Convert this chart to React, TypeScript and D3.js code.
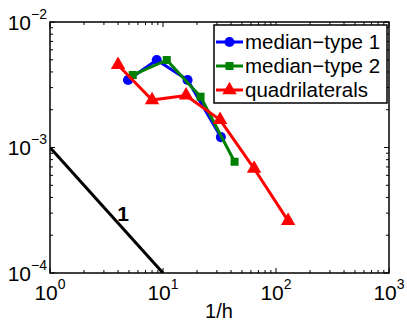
import React, { useEffect, useRef } from 'react';
import * as d3 from 'd3';

// values (log-log plot, error vs 1/h)
const median1X = [4.9, 8.8, 16.5, 32.5];
const median1Y = [3.45e-3, 4.98e-3, 3.45e-3, 1.21e-3];
const median2X = [5.4, 10.8, 21.5, 43];
const median2Y = [3.78e-3, 4.98e-3, 2.54e-3, 7.7e-4];
const quadX = [4, 8, 16, 32, 64, 128];
const quadY = [4.55e-3, 2.39e-3, 2.6e-3, 1.66e-3, 6.8e-4, 2.6e-4];
const slopeX = [1, 10];
const slopeY = [1e-3, 1e-4];

const xTickExps = [0, 1, 2, 3];
const yTickExps = [-4, -3, -2];
const legendLabels = ['median\u2212type 1', 'median\u2212type 2', 'quadrilaterals'];

const App = () => {
    const svgRef = useRef<SVGSVGElement>(null);

    useEffect(() => {
        const W = 407;
        const H = 322;
        const margin = { top: 22, right: 18, bottom: 49, left: 50 };
        const font = '"Liberation Sans", Arial, Helvetica, sans-serif';

        const x = d3.scaleLog().domain([1, 1000]).range([margin.left, W - margin.right]);
        const y = d3.scaleLog().domain([1e-4, 1e-2]).range([H - margin.bottom, margin.top]);

        const svg = d3.select(svgRef.current);
        svg.selectAll('*').remove();
        svg.attr('width', W).attr('height', H);

        svg.append('rect').attr('width', W).attr('height', H).attr('fill', 'white');

        const [x0, x1] = x.range();
        const [y0, y1] = y.range();

        // ticks (inside, on all four sides)
        const ticks = svg.append('g').attr('stroke', 'black').attr('stroke-width', 1);
        const xMinor: number[] = [];
        for (let e = 0; e < 3; e++) for (let k = 2; k <= 9; k++) xMinor.push(k * Math.pow(10, e));
        const yMinor: number[] = [];
        for (let e = -4; e < -2; e++) for (let k = 2; k <= 9; k++) yMinor.push(k * Math.pow(10, e));

        xMinor.forEach(v => {
            ticks.append('line').attr('x1', x(v)).attr('x2', x(v)).attr('y1', y0).attr('y2', y0 - 3);
            ticks.append('line').attr('x1', x(v)).attr('x2', x(v)).attr('y1', y1).attr('y2', y1 + 3);
        });
        xTickExps.forEach(e => {
            const v = Math.pow(10, e);
            ticks.append('line').attr('x1', x(v)).attr('x2', x(v)).attr('y1', y0).attr('y2', y0 - 5);
            ticks.append('line').attr('x1', x(v)).attr('x2', x(v)).attr('y1', y1).attr('y2', y1 + 5);
        });
        yMinor.forEach(v => {
            ticks.append('line').attr('y1', y(v)).attr('y2', y(v)).attr('x1', x0).attr('x2', x0 + 3);
            ticks.append('line').attr('y1', y(v)).attr('y2', y(v)).attr('x1', x1).attr('x2', x1 - 3);
        });
        yTickExps.forEach(e => {
            const v = Math.pow(10, e);
            ticks.append('line').attr('y1', y(v)).attr('y2', y(v)).attr('x1', x0).attr('x2', x0 + 5);
            ticks.append('line').attr('y1', y(v)).attr('y2', y(v)).attr('x1', x1).attr('x2', x1 - 5);
        });

        // tick labels
        xTickExps.forEach(e => {
            const t = svg.append('text')
                .attr('x', x(Math.pow(10, e)))
                .attr('y', 300)
                .attr('text-anchor', 'middle')
                .attr('font-family', font)
                .attr('font-size', 21);
            t.append('tspan').text('10');
            t.append('tspan').attr('dy', -11).attr('font-size', 14).text(String(e));
        });
        yTickExps.forEach(e => {
            const t = svg.append('text')
                .attr('x', x0 - 3)
                .attr('y', y(Math.pow(10, e)) + 7.5)
                .attr('text-anchor', 'end')
                .attr('font-family', font)
                .attr('font-size', 21);
            t.append('tspan').text('10');
            t.append('tspan').attr('dy', -11).attr('font-size', 14).text('\u2212' + String(-e));
        });

        svg.append('text')
            .attr('x', 219)
            .attr('y', 318)
            .attr('text-anchor', 'middle')
            .attr('font-family', font)
            .attr('font-size', 20)
            .text('1/h');

        // plot contents clipped to the axes
        svg.append('clipPath').attr('id', 'plotclip')
            .append('rect').attr('x', x0).attr('y', y1).attr('width', x1 - x0).attr('height', y0 - y1);
        const plot = svg.append('g').attr('clip-path', 'url(#plotclip)');

        const line = d3.line<[number, number]>().x(d => x(d[0])).y(d => y(d[1]));

        // slope reference
        plot.append('path')
            .datum(slopeX.map((v, i) => [v, slopeY[i]] as [number, number]))
            .attr('fill', 'none').attr('stroke', 'black').attr('stroke-width', 3)
            .attr('d', line);

        const series = [
            { xs: median1X, ys: median1Y, color: '#0000ff', symbol: d3.symbolCircle, size: 80 },
            { xs: median2X, ys: median2Y, color: '#008000', symbol: d3.symbolSquare, size: 64 },
            { xs: quadX, ys: quadY, color: '#ff0000', symbol: d3.symbolTriangle, size: 90 },
        ];

        series.forEach(s => {
            const pts = s.xs.map((v, i) => [v, s.ys[i]] as [number, number]);
            plot.append('path').datum(pts)
                .attr('fill', 'none').attr('stroke', s.color).attr('stroke-width', 3)
                .attr('stroke-linejoin', 'round')
                .attr('d', line);
            plot.selectAll(null).data(pts).enter().append('path')
                .attr('transform', d => `translate(${x(d[0])},${y(d[1])})`)
                .attr('d', d3.symbol().type(s.symbol).size(s.size)())
                .attr('fill', s.color);
        });

        svg.append('text')
            .attr('x', 123).attr('y', 221)
            .attr('text-anchor', 'middle')
            .attr('font-family', font)
            .attr('font-weight', 'bold')
            .attr('font-size', 21)
            .text('1');

        // axes box
        svg.append('rect')
            .attr('x', x0).attr('y', y1).attr('width', x1 - x0).attr('height', y0 - y1)
            .attr('fill', 'none').attr('stroke', 'black').attr('stroke-width', 1.5);

        // legend
        const lg = svg.append('g');
        lg.append('rect')
            .attr('x', 214).attr('y', 25).attr('width', 173).attr('height', 78)
            .attr('fill', 'white').attr('stroke', 'black').attr('stroke-width', 1.5);
        legendLabels.forEach((label, i) => {
            const cy = 42 + i * 24;
            const s = series[i];
            lg.append('line').attr('x1', 216).attr('x2', 243).attr('y1', cy).attr('y2', cy)
                .attr('stroke', s.color).attr('stroke-width', 3);
            lg.append('path')
                .attr('transform', `translate(229.5,${cy})`)
                .attr('d', d3.symbol().type(s.symbol).size(s.size)())
                .attr('fill', s.color);
            lg.append('text')
                .attr('x', 245).attr('y', cy + 7)
                .attr('font-family', font)
                .attr('font-size', 20.5)
                .text(label);
        });
    }, []);

    return (
        <svg ref={svgRef} style={{ position: 'absolute', left: 0, top: 0 }}></svg>
    );
};

export default App;
